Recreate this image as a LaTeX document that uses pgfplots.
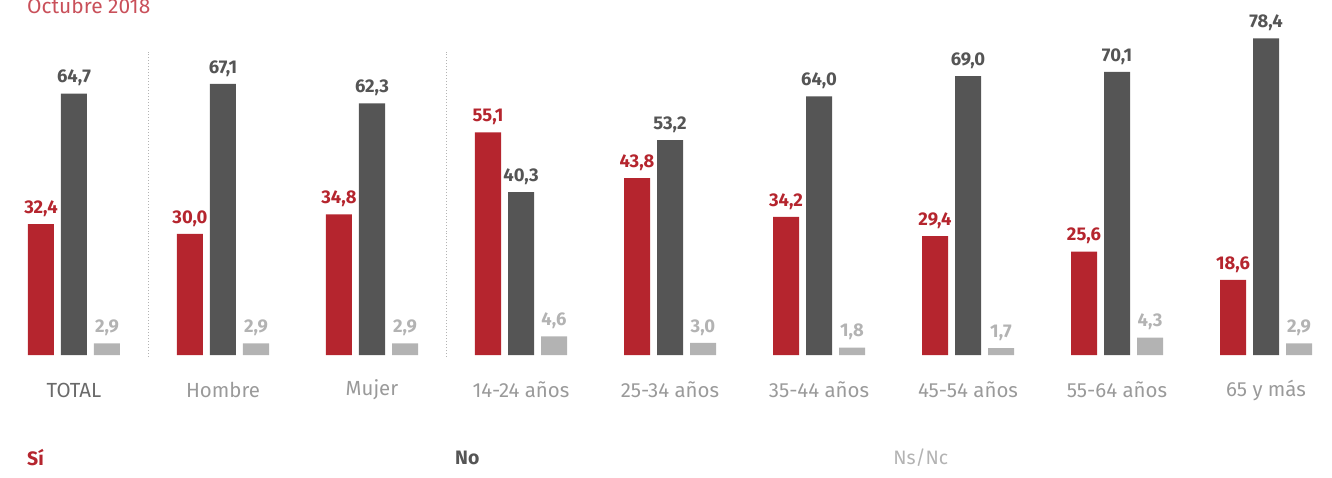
\documentclass[border=0pt]{standalone}
\usepackage{pgfplots}
\pgfplotsset{compat=1.18}
\usepackage{fontspec}
\setmainfont{Fira Sans}
\definecolor{cSi}{HTML}{B5252E}
\definecolor{cNo}{HTML}{555555}
\definecolor{cNs}{HTML}{B3B3B3}
\definecolor{cTitle}{HTML}{C9505A}
\definecolor{cLab}{HTML}{9A9A9A}
\definecolor{cTot}{HTML}{6A6A6A}
\begin{document}
\begin{tikzpicture}
\begin{axis}[
  scale only axis, width=1332bp, height=477bp,
  xmin=-0.4966, xmax=8.4430, ymin=-30.198, ymax=87.871,
  hide axis, clip=false,
  ybar=7bp, bar width=26bp,
  /pgf/number format/.cd, use comma, fixed, fixed zerofill, precision=1, assume math mode=true,
  /pgfplots/.cd,
  nodes near coords,
  every node near coord/.append style={font=\bfseries\fontsize{18.5}{18.5}\selectfont, yshift=4bp},
]
\addplot[fill=cSi, draw=none, every node near coord/.append style={text=cSi}] coordinates {
(0,32.4) (1,30.0) (2,34.8) (3,55.1) (4,43.8) (5,34.2) (6,29.4) (7,25.6) (8,18.6)};
\addplot[fill=cNo, draw=none, every node near coord/.append style={text=cNo}] coordinates {
(0,64.7) (1,67.1) (2,62.3) (3,40.3) (4,53.2) (5,64.0) (6,69.0) (7,70.1) (8,78.4)};
\addplot[fill=cNs, draw=none, every node near coord/.append style={text=cNs}] coordinates {
(0,2.9) (1,2.9) (2,2.9) (3,4.6) (4,3.0) (5,1.8) (6,1.7) (7,4.3) (8,2.9)};

\draw[cNs, dotted, line width=1pt] (axis cs:0.5,-0.5) -- (axis cs:0.5,75);
\draw[cNs, dotted, line width=1pt] (axis cs:2.5,-0.5) -- (axis cs:2.5,75);

\begin{scope}[every node/.style={font=\fontsize{20.5}{20.5}\selectfont, text=cLab}]
\node[text=cTot] at (axis cs:0,-8.66) {TOTAL};
\node at (axis cs:1,-8.66) {Hombre};
\node at (axis cs:2,-8.66) {Mujer};
\node at (axis cs:3,-8.66) {14-24 años};
\node at (axis cs:4,-8.66) {25-34 años};
\node at (axis cs:5,-8.66) {35-44 años};
\node at (axis cs:6,-8.66) {45-54 años};
\node at (axis cs:7,-8.66) {55-64 años};
\node at (axis cs:8,-8.66) {65 y más};
\end{scope}

\node[anchor=west, inner sep=0pt, text=cSi, font=\bfseries\fontsize{19.5}{19.5}\selectfont] at (axis cs:-0.3154,-25.4) {Sí};
\node[anchor=west, inner sep=0pt, text=cNo, font=\bfseries\fontsize{19.5}{19.5}\selectfont] at (axis cs:2.557,-25.4) {No};
\node[anchor=west, inner sep=0pt, text=cNs, font=\fontsize{19.5}{19.5}\selectfont] at (axis cs:5.497,-25.4) {Ns/Nc};
\node[anchor=west, inner sep=0pt, text=cTitle, font=\fontsize{21}{21}\selectfont] at (axis cs:-0.3154,86.5) {Octubre 2018};
\end{axis}
\pgfresetboundingbox
\useasboundingbox (current axis.south west) rectangle (current axis.north east);
\end{tikzpicture}
\end{document}
